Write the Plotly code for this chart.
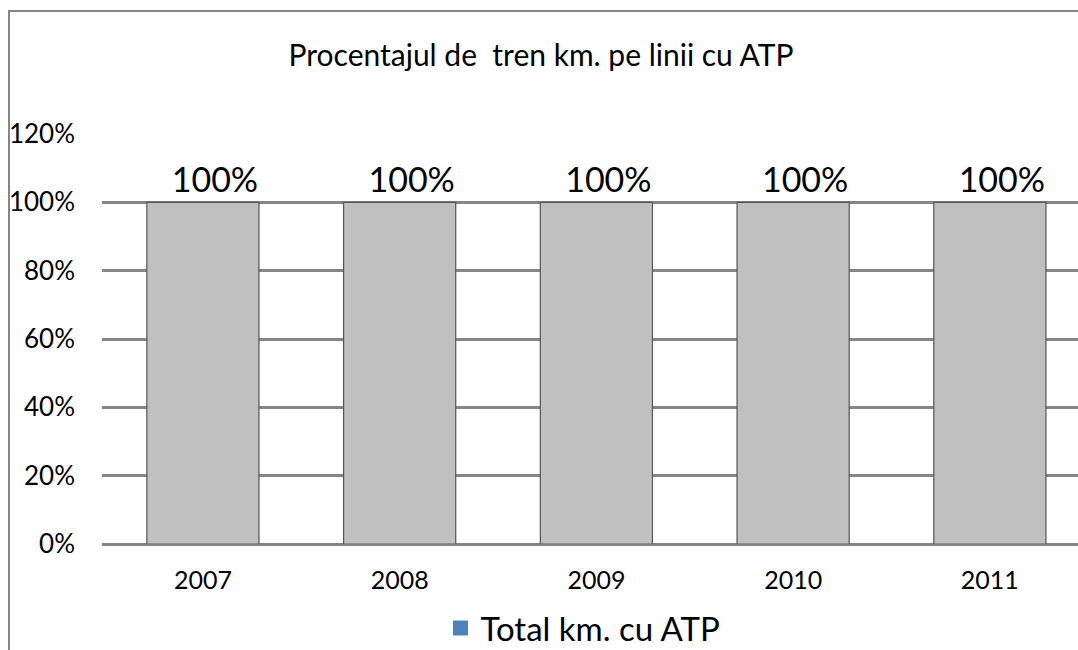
import plotly.graph_objects as go

years = ["2007", "2008", "2009", "2010", "2011"]
values = [1.0, 1.0, 1.0, 1.0, 1.0]
labels = ["100%", "100%", "100%", "100%", "100%"]
series_name = "Total km. cu ATP"
title_text = "Procentajul de  tren km. pe linii cu ATP"

FONT = "Lato, 'Open Sans', sans-serif"
W, H = 1078, 650
L, R, T, B = 102, 0, 134, 106
pw, ph = W - L - R, H - T - B

fig = go.Figure()
fig.add_trace(go.Bar(
    x=years, y=values, text=labels, textposition="outside",
    texttemplate="\u2007\u2009%{text}",
    textfont=dict(size=34, color="#000000", family=FONT),
    marker=dict(color="#C0C0C0", line=dict(color="#555555", width=1.2)),
    width=0.57, showlegend=False, cliponaxis=False,
    hoverinfo="skip",
))
fig.add_trace(go.Scatter(
    x=[None], y=[None], mode="markers", name=series_name,
    marker=dict(symbol="square", size=15, color="#4F81BD"),
))

def px_x(p):
    return (p - L) / pw

def px_y(p):
    return (H - B - p) / ph

fig.update_layout(
    width=W, height=H,
    margin=dict(l=L, r=R, t=T, b=B, autoexpand=False),
    paper_bgcolor="white", plot_bgcolor="white",
    font=dict(family=FONT, color="#000000"),
    title=dict(text=title_text, x=541 / W, xanchor="center",
               y=1 - 55 / H, yanchor="middle",
               font=dict(size=30, family=FONT, color="#000000")),
    xaxis=dict(type="category", range=[-0.513, 4.448], showgrid=False,
               showline=False, ticks="", tickfont=dict(size=25, family=FONT),
               ticklabelstandoff=19, fixedrange=True),
    yaxis=dict(range=[0, 1.2], dtick=0.2, tickformat=".0%",
               showgrid=True, gridcolor="#868686", gridwidth=3,
               zeroline=True, zerolinecolor="#868686", zerolinewidth=3,
               showline=False, ticks="", tickfont=dict(size=26, family=FONT),
               ticklabelstandoff=26, fixedrange=True),
    legend=dict(orientation="h", x=px_x(583), xanchor="center",
                y=px_y(628), yanchor="middle",
                font=dict(size=33, family=FONT, color="#000000"),
                itemwidth=30, bgcolor="rgba(0,0,0,0)"),
    shapes=[
        dict(type="line", xref="paper", yref="paper",
             x0=px_x(9), x1=px_x(9), y0=px_y(10), y1=px_y(660),
             line=dict(color="#868686", width=2)),
        dict(type="line", xref="paper", yref="paper",
             x0=px_x(9), x1=px_x(1090), y0=px_y(11), y1=px_y(11),
             line=dict(color="#868686", width=2)),
    ],
)

fig.write_html("out.html", config={"displayModeBar": False},
               post_script="document.body.style.margin='0';")
